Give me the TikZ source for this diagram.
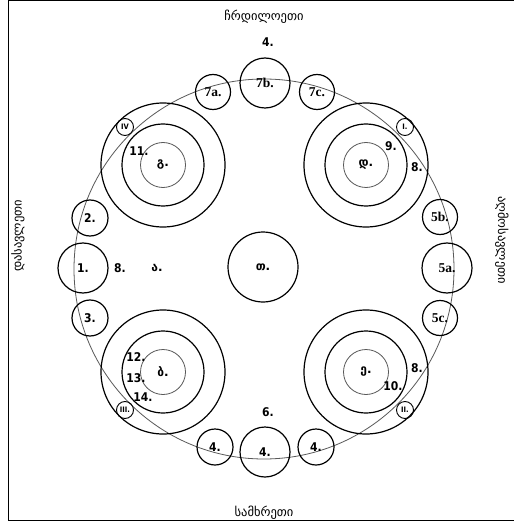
\documentclass[tikz,border=0pt]{standalone}
\usepackage{fontspec}
\setmainfont{DejaVu Sans}
\newfontfamily\numfont{DejaVu Sans Condensed}
\newfontfamily\serbold{Liberation Serif Bold}
\newfontfamily\geofont{DejaVu Sans}
\begin{document}
\begin{tikzpicture}[x=1pt,y=-1pt,
  blk/.style={draw=black,line width=1.2pt,circle,inner sep=0pt},
  grayc/.style={draw=black!65,line width=0.8pt,circle,inner sep=0pt},
  small/.style={blk,minimum size=36pt,font=\numfont\bfseries\fontsize{12}{12}\selectfont},
  large/.style={blk,minimum size=50pt,font=\numfont\bfseries\fontsize{12}{12}\selectfont},
  smallS/.style={blk,minimum size=35pt,font=\serbold\fontsize{13.5}{13.5}\selectfont},
  largeS/.style={blk,minimum size=50pt,font=\serbold\fontsize{13.5}{13.5}\selectfont},
  outer/.style={blk,minimum size=124pt},
  middle/.style={blk,minimum size=82pt},
  inner/.style={grayc,minimum size=45pt,font=\geofont\bfseries\fontsize{12}{12}\selectfont},
  roman/.style={blk,line width=0.9pt,minimum size=17pt,font=\numfont\bfseries\fontsize{7.5}{7.5}\selectfont},
  lbl/.style={inner sep=0pt,font=\numfont\bfseries\fontsize{12}{12}\selectfont},
  geo/.style={inner sep=0pt,font=\geofont\fontsize{12.5}{12.5}\selectfont}]
\useasboundingbox (0,0) rectangle (515,529);
\fill[white] (0,0) rectangle (515,529);
% frame
\draw[line width=1pt] (8,1) -- (514,1);
\draw[line width=1pt] (8,1) -- (8,520) -- (514,520);
% big circle
\node[grayc,minimum size=380pt] (ring) at (264,269) {};
% central
\node[blk,minimum size=70pt,font=\geofont\bfseries\fontsize{12}{12}\selectfont] (center) at (263,267) {თ.};
% quadrant groups
\node[outer] (gout) at (163,165) {};
\node[middle] (gmid) at (163,165) {};
\node[inner] (g) at (163,165) {გ.};
\node[outer] (dout) at (366,165) {};
\node[middle] (dmid) at (366,165) {};
\node[inner] (d) at (366,165) {დ.};
\node[outer] (bout) at (163,372) {};
\node[middle] (bmid) at (163,372) {};
\node[inner] (b) at (163,372) {ბ.};
\node[outer] (eout) at (366,372) {};
\node[middle] (emid) at (366,372) {};
\node[inner] (e) at (366,372) {ე.};
% roman
\node[roman] (rIV) at (125,127) {IV};
\node[roman] (rI) at (405,127) {I.};
\node[roman] (rIII) at (125,410) {III.};
\node[roman] (rII) at (405,410) {II.};
% perimeter circles
\node[smallS] (c7a) at (213,92) {7a.};
\node[largeS] (c7b) at (265,83) {7b.};
\node[smallS] (c7c) at (317,92) {7c.};
\node[small] (c4a) at (215,447) {4.};
\node[large] (c4b) at (265,452) {4.};
\node[small] (c4c) at (316,447) {4.};
\node[smallS] (c5b) at (440,217) {5b.};
\node[largeS] (c5a) at (447,268) {5a.};
\node[smallS] (c5c) at (440,318) {5c.};
\node[small] (c2) at (90,218) {2.};
\node[large] (c1) at (83,268) {1.};
\node[small] (c3) at (90,318) {3.};
% labels
\node[lbl] (l4) at (268,42) {4.};
\node[lbl] (l6) at (268,412) {6.};
\node[lbl] (l8a) at (120,268) {8.};
\node[inner sep=0pt,font=\geofont\bfseries\fontsize{12}{12}\selectfont] (la) at (157,268) {ა.};
\node[lbl] (l11) at (139,151) {11.};
\node[lbl] (l9) at (391,146) {9.};
\node[lbl] (l8b) at (417,167) {8.};
\node[lbl] (l12) at (136,357) {12.};
\node[lbl] (l13) at (136,378) {13.};
\node[lbl] (l14) at (143,397) {14.};
\node[lbl] (l8c) at (417,368) {8.};
\node[lbl] (l10) at (393,386) {10.};
% compass
\node[geo] (north) at (264,17) {ჩრდილოეთი};
\node[geo] (south) at (264,513) {სამხრეთი};
\node[geo,rotate=90] (west) at (18,236) {დასავლეთი};
\node[geo,rotate=-90] (east) at (502,240) {აღმოსავლეთი};
\end{tikzpicture}
\end{document}
